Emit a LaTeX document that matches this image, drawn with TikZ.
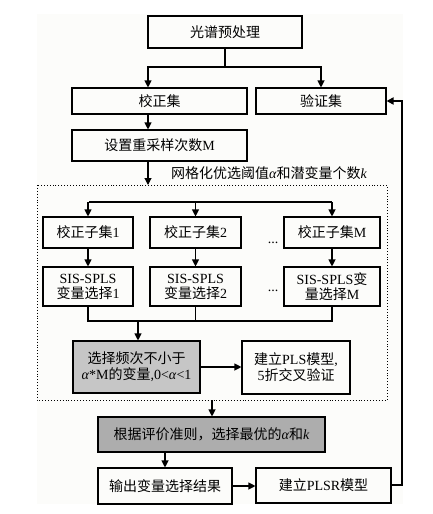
\documentclass[tikz,border=0pt]{standalone}
\usepackage{fontspec}
\setmainfont{Liberation Serif}
\newfontfamily\cjk{Noto Sans CJK SC}
\usetikzlibrary{arrows.meta}
\definecolor{grayA}{HTML}{C6C6C6}
\definecolor{grayB}{HTML}{ADADAD}
\definecolor{bgpaper}{HTML}{FCFCFA}
\newcommand{\zh}[1]{{\cjk #1}}
\newcommand{\al}{\textit{α}}
\begin{document}
\begin{tikzpicture}[x=1pt,y=-1pt,
  box/.style={draw,line width=1.1pt,inner sep=0pt,align=center,font=\fontsize{14}{17}\selectfont},
  arr/.style={line width=1.1pt,-{Triangle[length=7pt,width=7pt]}},
  ln/.style={line width=1.1pt}]
\useasboundingbox (0,0) rectangle (432,514);
\fill[bgpaper] (37,14) rectangle (403,504);
% boxes
\node[box,minimum width=154pt,minimum height=32pt] (pre) at (225,32) {\zh{光谱预处理}};
\node[box,minimum width=175pt,minimum height=26pt] (cal) at (159.5,101) {\zh{校正集}};
\node[box,minimum width=130pt,minimum height=26pt] (val) at (321,101) {\zh{验证集}};
\node[box,minimum width=175pt,minimum height=31pt] (setM) at (159.5,145.5) {\zh{设置重采样次数}M};
\node[font=\fontsize{14}{17}\selectfont,inner sep=0pt] (grid) at (269,173) {\zh{网格化优选阈值}\al\zh{和潜变量个数}\textit{k}};
\draw[line width=0.9pt,dotted] (37,185) rectangle (387,400);
\coordinate (dtop) at (148,185);
\coordinate (dbot) at (212,400);
\node[box,minimum width=90pt,minimum height=31pt] (sub1) at (88,232.5) {\zh{校正子集}1};
\node[box,minimum width=91pt,minimum height=31pt] (sub2) at (195.5,232.5) {\zh{校正子集}2};
\node[box,minimum width=96pt,minimum height=31pt] (subM) at (332,232.5) {\zh{校正子集}M};
\node[box,minimum width=90pt,minimum height=39pt] (sis1) at (88,286.5) {SIS-SPLS\\[-2pt]\zh{变量选择}1};
\node[box,minimum width=91pt,minimum height=39pt] (sis2) at (195.5,286.5) {SIS-SPLS\\[-2pt]\zh{变量选择}2};
\node[box,minimum width=96pt,minimum height=39pt] (sisM) at (332,286.5) {SIS-SPLS\zh{变}\\[-2pt]\zh{量选择}M};
\node[font=\fontsize{14}{17}\selectfont,inner sep=0pt,anchor=south] (dots1) at (273,244) {...};
\node[font=\fontsize{14}{17}\selectfont,inner sep=0pt,anchor=south] (dots2) at (273,292) {...};
\node[box,fill=grayA,minimum width=127pt,minimum height=52pt] (freq) at (136.5,367) {\zh{选择频次不小于}\\[-1pt]\al*M\zh{的变量},0<\al<1};
\node[box,minimum width=108pt,minimum height=53pt] (pls) at (296,367.5) {\zh{建立}PLS\zh{模型},\\[-1pt]5\zh{折交叉验证}};
\node[box,fill=grayB,minimum width=227pt,minimum height=35pt] (crit) at (211.5,434.5) {\zh{根据评价准则，选择最优的}\al\zh{和}\textit{k}};
\node[box,minimum width=134pt,minimum height=36pt] (out) at (165,486) {\zh{输出变量选择结果}};
\node[box,minimum width=135pt,minimum height=35pt] (plsr) at (323.5,485.5) {\zh{建立}PLSR\zh{模型}};
% connectors
\coordinate (s1) at (225,67);
\draw[ln] (pre.south) -- (s1);
\draw[arr] (s1) -| (cal.north -| 148,0);
\draw[arr] (s1) -| (val.north);
\draw[arr] (cal.south -| 148,0) -- (setM.north -| 148,0);
\draw[arr] (setM.south -| 148,0) -- (dtop);
\coordinate (s2) at (195.5,202);
\draw[ln] (89,202) -- (332,202);
\draw[arr] (s2) -- (sub2.north);
\draw[arr] (sub1.north |- s2) -- (sub1.north);
\draw[arr] (subM.north |- s2) -- (subM.north);
\draw[arr] (sub1) -- (sis1);
\draw[arr] (sub2) -- (sis2);
\draw[arr] (subM) -- (sisM);
\coordinate (s3) at (138,321);
\draw[ln] (sis1.south) |- (s3) -| (sis2.south);
\draw[ln] (sis2.south |- s3) -| (sisM.south);
\draw[arr] (s3) -- (freq.north -| s3);
\draw[arr] (freq.east) -- (pls.west |- freq.east);
\draw[arr] (dbot) -- (crit.north -| dbot);
\draw[arr] (crit.south -| out.north) -- (out.north);
\draw[arr] (out.east) -- (plsr.west |- out.east);
\coordinate (fb) at (402,485);
\draw[line width=2pt,-{Triangle[length=7pt,width=7pt]}] (plsr.east |- fb) -- (fb) -- (fb |- val.east) -- (val.east);
\end{tikzpicture}
\end{document}
